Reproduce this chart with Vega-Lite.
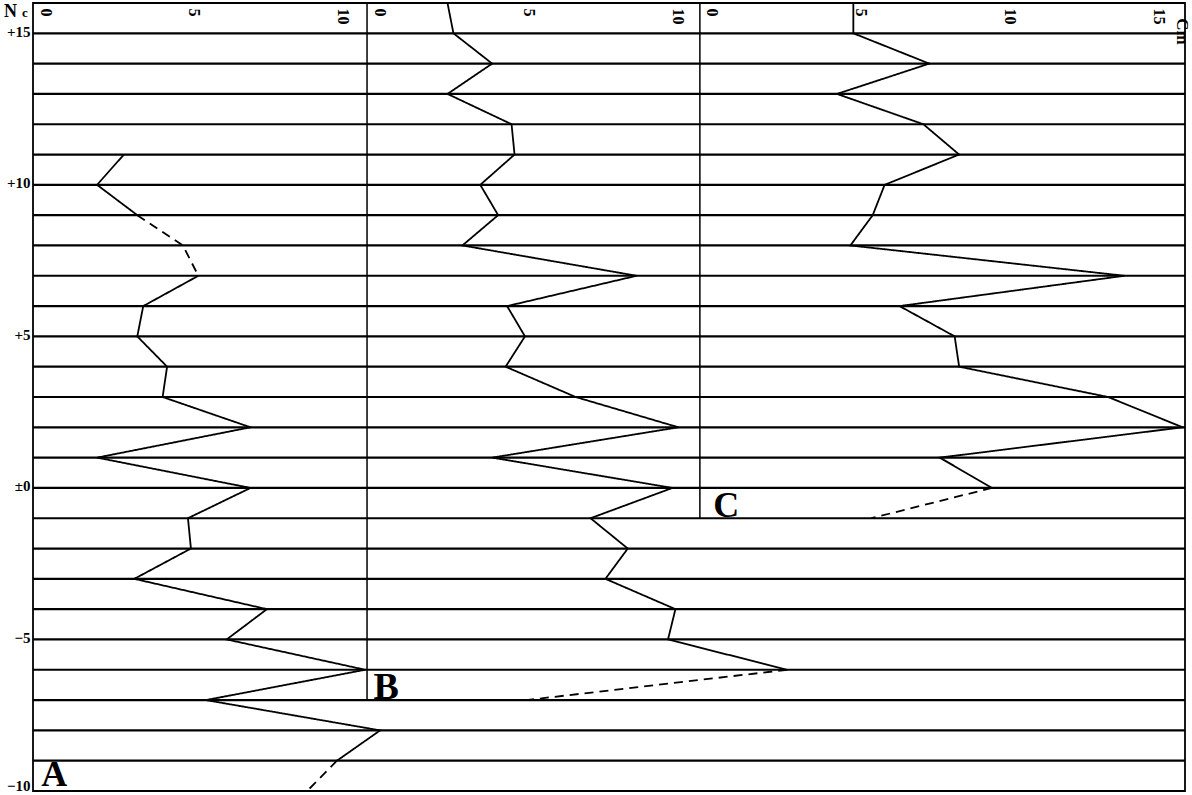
{
  "$schema": "https://vega.github.io/schema/vega-lite/v6.json",
  "width": 1152,
  "height": 788,
  "autosize": "none",
  "padding": {"left": 33, "top": 3, "right": 7, "bottom": 4},
  "background": "white",
  "config": {"view": {"stroke": "black", "strokeWidth": 1.8}, "font": "Liberation Serif"},
  "encoding": {
    "y": {
      "field": "N", "type": "quantitative",
      "scale": {"domain": [-10, 16], "nice": false, "zero": false},
      "axis": {
        "orient": "left", "title": null, "values": [15, 10, 5, 0, -5, -10],
        "labelExpr": "datum.value > 0 ? '+' + datum.value : (datum.value == 0 ? '±0' : '−' + abs(datum.value))",
        "domain": false, "ticks": false, "grid": false, "labelPadding": 3,
        "labelFontSize": 15, "labelFontWeight": "bold", "labelColor": "black", "labelFont": "Liberation Serif",
        "labelBaseline": "middle",
        "labelOffset": {"condition": {"test": "datum.value == -10", "value": -6}, "value": -2},
        "labelFlush": false, "labelOverlap": false
      }
    }
  },
  "layer": [
    {
      "layer": [
        {
          "data": {"values": [{"N": -10}, {"N": -9}, {"N": -8}, {"N": -7}, {"N": -6}, {"N": -5}, {"N": -4}, {"N": -3}, {"N": -2}, {"N": -1}, {"N": 0}, {"N": 1}, {"N": 2}, {"N": 3}, {"N": 4}, {"N": 5}, {"N": 6}, {"N": 7}, {"N": 8}, {"N": 9}, {"N": 10}, {"N": 11}, {"N": 12}, {"N": 13}, {"N": 14}, {"N": 15}, {"N": 16}]},
          "mark": {"type": "rule", "color": "black", "strokeWidth": 2.2},
          "encoding": {}
        },
        {
          "data": {"values": [
            {"seg": "a1", "style": "solid", "N": 11, "v": 3.05},
            {"seg": "a1", "style": "solid", "N": 10, "v": 2.15},
            {"seg": "a1", "style": "solid", "N": 9, "v": 3.5},
            {"seg": "a2", "style": "dashed", "N": 9, "v": 3.5},
            {"seg": "a2", "style": "dashed", "N": 8, "v": 5.03},
            {"seg": "a2", "style": "dashed", "N": 7, "v": 5.55},
            {"seg": "a3", "style": "solid", "N": 7, "v": 5.55},
            {"seg": "a3", "style": "solid", "N": 6, "v": 3.7},
            {"seg": "a3", "style": "solid", "N": 5, "v": 3.5},
            {"seg": "a3", "style": "solid", "N": 4, "v": 4.5},
            {"seg": "a3", "style": "solid", "N": 3, "v": 4.35},
            {"seg": "a3", "style": "solid", "N": 2, "v": 7.3},
            {"seg": "a3", "style": "solid", "N": 1, "v": 2.15},
            {"seg": "a3", "style": "solid", "N": 0, "v": 7.3},
            {"seg": "a3", "style": "solid", "N": -1, "v": 5.2},
            {"seg": "a3", "style": "solid", "N": -2, "v": 5.3},
            {"seg": "a3", "style": "solid", "N": -3, "v": 3.4},
            {"seg": "a3", "style": "solid", "N": -4, "v": 7.85},
            {"seg": "a3", "style": "solid", "N": -5, "v": 6.5},
            {"seg": "a3", "style": "solid", "N": -6, "v": 11.15},
            {"seg": "a3", "style": "solid", "N": -7, "v": 5.8},
            {"seg": "a3", "style": "solid", "N": -8, "v": 11.65},
            {"seg": "a3", "style": "solid", "N": -9, "v": 10.2},
            {"seg": "a4", "style": "dashed", "N": -9, "v": 10.2},
            {"seg": "a4", "style": "dashed", "N": -10, "v": 9.2}
          ]},
          "mark": {"type": "line", "color": "black", "strokeWidth": 1.8},
          "encoding": {
            "x": {
              "field": "v", "type": "quantitative",
              "scale": {"domain": [0, 38.66], "nice": false, "zero": false},
              "axis": {
                "orient": "top", "title": null, "values": [0, 5, 10],
                "domain": false, "ticks": false, "grid": false,
                "labelAngle": 90, "labelAlign": "left", "labelBaseline": "middle",
                "labelPadding": -5, "labelOffset": 12, "labelFontSize": 16, "labelFontWeight": "bold", "labelColor": "black",
                "labelFont": "Liberation Serif", "labelFlush": false, "labelOverlap": false, "labelBound": false
              }
            },
            "detail": {"field": "seg"},
            "order": {"field": "N", "type": "quantitative", "sort": "descending"},
            "strokeDash": {"field": "style", "type": "nominal", "scale": {"domain": ["solid", "dashed"], "range": [[1, 0], [9, 6]]}, "legend": null}
          }
        },
        {
          "data": {"values": [
            {"label": "A", "N": -9.82, "v": 0.28, "size": 36},
            {"label": "N", "N": 15.54, "v": -0.97, "size": 18},
            {"label": "c", "N": 15.54, "v": -0.37, "size": 13}
          ]},
          "mark": {"type": "text", "color": "black", "align": "left", "baseline": "alphabetic", "font": "Liberation Serif", "fontWeight": "bold"},
          "encoding": {
            "x": {"field": "v", "type": "quantitative"},
            "text": {"field": "label"},
            "size": {"field": "size", "type": "quantitative", "scale": null}
          }
        }
      ]
    },
    {
      "layer": [
        {
          "data": {"values": [{"N": 16, "N2": -7, "v": 0}]},
          "mark": {"type": "rule", "color": "black", "strokeWidth": 1.5},
          "encoding": {
            "x": {
              "field": "v", "type": "quantitative",
              "scale": {"domain": [-11.21, 27.45], "nice": false, "zero": false},
              "axis": {
                "orient": "top", "title": null, "values": [0, 5, 10],
                "domain": false, "ticks": false, "grid": false,
                "labelAngle": 90, "labelAlign": "left", "labelBaseline": "middle",
                "labelPadding": -5, "labelOffset": 12, "labelFontSize": 16, "labelFontWeight": "bold", "labelColor": "black",
                "labelFont": "Liberation Serif", "labelFlush": false, "labelOverlap": false, "labelBound": false
              }
            },
            "y2": {"field": "N2"}
          }
        },
        {
          "data": {"values": [
            {"seg": "b1", "style": "solid", "N": 16, "v": 2.7},
            {"seg": "b1", "style": "solid", "N": 15, "v": 2.9},
            {"seg": "b1", "style": "solid", "N": 14, "v": 4.2},
            {"seg": "b1", "style": "solid", "N": 13, "v": 2.7},
            {"seg": "b1", "style": "solid", "N": 12, "v": 4.85},
            {"seg": "b1", "style": "solid", "N": 11, "v": 4.95},
            {"seg": "b1", "style": "solid", "N": 10, "v": 3.8},
            {"seg": "b1", "style": "solid", "N": 9, "v": 4.4},
            {"seg": "b1", "style": "solid", "N": 8, "v": 3.2},
            {"seg": "b1", "style": "solid", "N": 7, "v": 9.05},
            {"seg": "b1", "style": "solid", "N": 6, "v": 4.7},
            {"seg": "b1", "style": "solid", "N": 5, "v": 5.3},
            {"seg": "b1", "style": "solid", "N": 4, "v": 4.65},
            {"seg": "b1", "style": "solid", "N": 3, "v": 7.0},
            {"seg": "b1", "style": "solid", "N": 2, "v": 10.45},
            {"seg": "b1", "style": "solid", "N": 1, "v": 4.2},
            {"seg": "b1", "style": "solid", "N": 0, "v": 10.25},
            {"seg": "b1", "style": "solid", "N": -1, "v": 7.5},
            {"seg": "b1", "style": "solid", "N": -2, "v": 8.75},
            {"seg": "b1", "style": "solid", "N": -3, "v": 8.0},
            {"seg": "b1", "style": "solid", "N": -4, "v": 10.35},
            {"seg": "b1", "style": "solid", "N": -5, "v": 10.1},
            {"seg": "b1", "style": "solid", "N": -6, "v": 14.1},
            {"seg": "b2", "style": "dashed", "N": -6, "v": 14.1},
            {"seg": "b2", "style": "dashed", "N": -7, "v": 5.35}
          ]},
          "mark": {"type": "line", "color": "black", "strokeWidth": 1.8},
          "encoding": {
            "x": {"field": "v", "type": "quantitative"},
            "detail": {"field": "seg"},
            "order": {"field": "N", "type": "quantitative", "sort": "descending"},
            "strokeDash": {"field": "style", "type": "nominal", "scale": {"domain": ["solid", "dashed"], "range": [[1, 0], [9, 6]]}, "legend": null}
          }
        },
        {
          "data": {"values": [{"label": "B", "N": -6.97, "v": 0.22}]},
          "mark": {"type": "text", "color": "black", "align": "left", "baseline": "alphabetic", "font": "Liberation Serif", "fontWeight": "bold", "fontSize": 38},
          "encoding": {
            "x": {"field": "v", "type": "quantitative"},
            "text": {"field": "label"}
          }
        }
      ]
    },
    {
      "layer": [
        {
          "data": {"values": [{"N": 16, "N2": -1, "v": 0}]},
          "mark": {"type": "rule", "color": "black", "strokeWidth": 1.5},
          "encoding": {
            "x": {
              "field": "v", "type": "quantitative",
              "scale": {"domain": [-22.38, 16.28], "nice": false, "zero": false},
              "axis": {
                "orient": "top", "title": null, "values": [0, 5, 10, 15],
                "domain": false, "ticks": false, "grid": false,
                "labelAngle": 90, "labelAlign": "left", "labelBaseline": "middle",
                "labelPadding": -5, "labelOffset": 12, "labelFontSize": 16, "labelFontWeight": "bold", "labelColor": "black",
                "labelFont": "Liberation Serif", "labelFlush": false, "labelOverlap": false, "labelBound": false
              }
            },
            "y2": {"field": "N2"}
          }
        },
        {
          "data": {"values": [
            {"seg": "c1", "style": "solid", "N": 16, "v": 5.15},
            {"seg": "c1", "style": "solid", "N": 15, "v": 5.15},
            {"seg": "c1", "style": "solid", "N": 14, "v": 7.7},
            {"seg": "c1", "style": "solid", "N": 13, "v": 4.6},
            {"seg": "c1", "style": "solid", "N": 12, "v": 7.5},
            {"seg": "c1", "style": "solid", "N": 11, "v": 8.7},
            {"seg": "c1", "style": "solid", "N": 10, "v": 6.2},
            {"seg": "c1", "style": "solid", "N": 9, "v": 5.8},
            {"seg": "c1", "style": "solid", "N": 8, "v": 5.05},
            {"seg": "c1", "style": "solid", "N": 7, "v": 14.25},
            {"seg": "c1", "style": "solid", "N": 6, "v": 6.7},
            {"seg": "c1", "style": "solid", "N": 5, "v": 8.55},
            {"seg": "c1", "style": "solid", "N": 4, "v": 8.7},
            {"seg": "c1", "style": "solid", "N": 3, "v": 13.7},
            {"seg": "c1", "style": "solid", "N": 2, "v": 16.2},
            {"seg": "c1", "style": "solid", "N": 1, "v": 8.05},
            {"seg": "c1", "style": "solid", "N": 0, "v": 9.8},
            {"seg": "c2", "style": "dashed", "N": 0, "v": 9.8},
            {"seg": "c2", "style": "dashed", "N": -1, "v": 5.75}
          ]},
          "mark": {"type": "line", "color": "black", "strokeWidth": 1.8},
          "encoding": {
            "x": {"field": "v", "type": "quantitative"},
            "detail": {"field": "seg"},
            "order": {"field": "N", "type": "quantitative", "sort": "descending"},
            "strokeDash": {"field": "style", "type": "nominal", "scale": {"domain": ["solid", "dashed"], "range": [[1, 0], [9, 6]]}, "legend": null}
          }
        },
        {
          "data": {"values": [
            {"label": "C", "N": -0.95, "v": 0.45, "size": 36, "angle": 0},
            {"label": "Cm", "N": 15.5, "v": 16.0, "size": 17, "angle": 90}
          ]},
          "mark": {"type": "text", "color": "black", "align": "left", "baseline": "alphabetic", "font": "Liberation Serif", "fontWeight": "bold"},
          "encoding": {
            "x": {"field": "v", "type": "quantitative"},
            "text": {"field": "label"},
            "size": {"field": "size", "type": "quantitative", "scale": null},
            "angle": {"field": "angle", "type": "quantitative", "scale": null}
          }
        }
      ]
    }
  ],
  "resolve": {"scale": {"x": "independent"}, "axis": {"x": "independent"}}
}
